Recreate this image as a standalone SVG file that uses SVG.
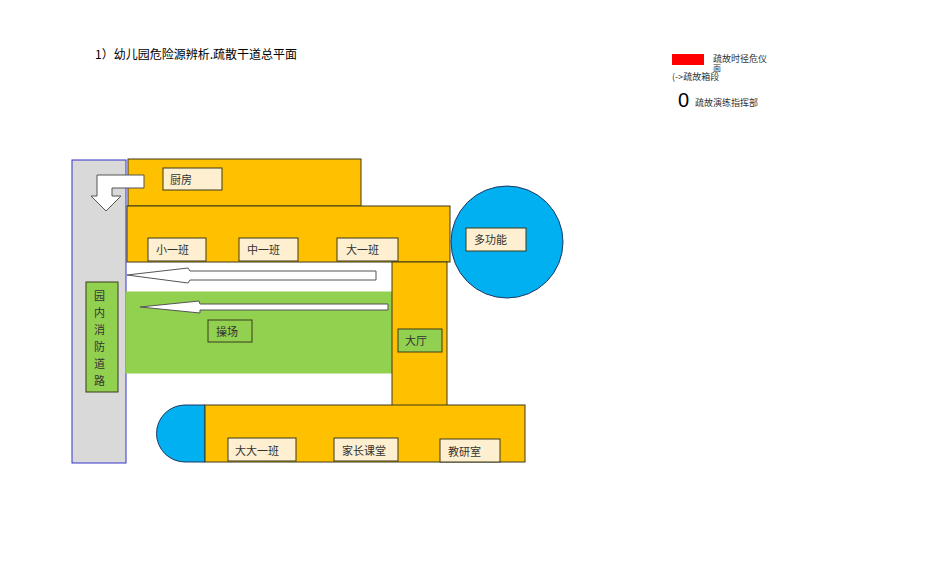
<svg xmlns="http://www.w3.org/2000/svg" width="950" height="577" viewBox="0 0 950 577">
<style>
.o{fill:#ffc000;stroke:#3a3a1a;stroke-width:1}
.lb{fill:#fdefd0;stroke:#3a3a1a;stroke-width:1}
.gb{fill:#92d050;stroke:#3a3a1a;stroke-width:1}
.bl{fill:#00b0f0;stroke:#1f3864;stroke-width:1}
.ar{fill:#fff;stroke:#555;stroke-width:1}
text{font-family:"Noto Sans CJK SC","Liberation Sans",sans-serif;font-size:11px;fill:#333}
</style>
<rect width="950" height="577" fill="#fff"/>
<text x="95" y="59" style="font-size:12px;fill:#000">1）幼儿园危险源辨析.疏散干道总平面</text>
<g id="legend">
<rect x="672" y="54" width="32" height="11" fill="#ff0000"/>
<text x="713" y="62" style="font-size:9px">疏故时径危仪</text>
<text x="713" y="71" style="font-size:8px">面</text>
<text x="672" y="80" style="font-size:9px">(->疏故箱段</text>
<text x="678" y="107" style="font-size:20px;fill:#000;font-family:'Liberation Sans',sans-serif">0</text>
<text x="695" y="106" style="font-size:9px">疏故演练指挥部</text>
</g>
<g id="road"><rect x="72" y="160" width="54" height="303" fill="#d9d9d9" stroke="#3333cc"/></g>
<g id="kitchen"><rect class="o" x="128" y="159" width="233" height="47"/><rect class="lb" x="163" y="168" width="59" height="22"/><text x="170" y="184">厨房</text></g>
<g id="classes"><rect class="o" x="127" y="206" width="323" height="56"/>
<rect class="lb" x="148" y="238" width="58" height="23"/><text x="156" y="254">小一班</text>
<rect class="lb" x="239" y="238" width="59" height="23"/><text x="247" y="254">中一班</text>
<rect class="lb" x="337" y="238" width="61" height="23"/><text x="346" y="254">大一班</text></g>
<g id="playground"><rect x="126" y="292" width="266" height="81" fill="#92d050" stroke="#92d050"/><rect class="gb" x="208" y="320" width="44" height="22"/><text x="216" y="336">操场</text></g>
<g id="hall"><rect class="o" x="392" y="262" width="55" height="145"/><rect class="gb" x="398" y="329" width="44" height="23"/><text x="405" y="345">大厅</text></g>
<g id="multi"><circle class="bl" cx="507" cy="242" r="56"/><rect class="lb" x="466" y="228" width="60" height="23"/><text x="474" y="244">多功能</text></g>
<g id="bottom"><path class="bl" d="M205,405 H185 A28.5,28.5 0 0 0 185,462 H205 Z"/><rect class="o" x="205" y="405" width="320" height="57"/>
<rect class="lb" x="228" y="438" width="68" height="23"/><text x="235" y="455">大大一班</text>
<rect class="lb" x="334" y="438" width="64" height="23"/><text x="342" y="455">家长课堂</text>
<rect class="lb" x="440" y="439" width="60" height="23"/><text x="448" y="456">教研室</text></g>
<g id="fireroad"><rect class="gb" x="86" y="282" width="32" height="110"/>
<text x="94" y="300">园</text><text x="94" y="317">内</text><text x="94" y="334">消</text><text x="94" y="351">防</text><text x="94" y="368">道</text><text x="94" y="385">路</text></g>
<g id="connectors">
<path class="ar" d="M376,271 H190 L188,268 L127,275 L188,283 L190,280 H376 Z"/>
<path class="ar" d="M388,304 H200 L199,301 L140,307 L200,313 L200,310 H388 Z"/>
<path class="ar" d="M144,175 H97 V196 H91 L106,211 L121,196 H112 V188 H144 Z"/>
</g>
</svg>
